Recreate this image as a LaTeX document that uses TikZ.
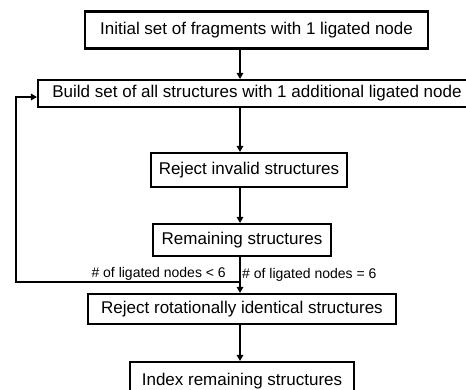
\documentclass[tikz,border=0pt]{standalone}
\usepackage{fontspec}
\setmainfont{Liberation Sans}
\usetikzlibrary{arrows.meta, calc, positioning}

\begin{document}
\begin{tikzpicture}[x=1pt, y=-1pt,
	stage/.style={
	draw,rectangle,line width=2.1pt,inner sep=0pt,align=center,
	font=\fontsize{17}{20}\selectfont
	},
	cond/.style={inner sep=1pt,font=\fontsize{14}{16}\selectfont},
	flow/.style={line width=2pt,-{Triangle[length=6pt,width=6.5pt]}}
]
	\useasboundingbox (0,0) rectangle (466,390);
	\clip (0,0) rectangle (466,390);

	\coordinate (spine) at (240,0);
	\coordinate (split) at (240,282);
	\coordinate (back) at (16,282);

	\node[stage,minimum width=343pt,minimum height=37pt] at (256.5,30) (init) {Initial set of fragments with 1 ligated node};
	\node[stage,minimum width=438pt,minimum height=27pt] at (257,93.5) (build) {Build set of all structures with 1 additional ligated node};
	\node[stage,minimum width=196pt,minimum height=34pt] at (249,170) (invalid) {Reject invalid structures};
	\node[stage,minimum width=178pt,minimum height=32pt] at (242,240) (remain) {Remaining structures};
	\node[stage,minimum width=308pt,minimum height=30pt] at (242,309) (rotrej) {Reject rotationally identical structures};
	\node[stage,minimum width=224pt,minimum height=38pt] at (242,381) (index) {Index remaining structures};

	\node[cond,anchor=south east] at ([xshift=-13pt]split) (less) {\# of ligated nodes < 6};
	\node[cond,anchor=south west] at ([xshift=1pt,yshift=-1pt]split) (equal) {\# of ligated nodes = 6};

	\draw[flow] (init.south -| spine) -- (build.north -| spine);
	\draw[flow] (build.south -| spine) -- (invalid.north -| spine);
	\draw[flow] (invalid.south -| spine) -- (remain.north -| spine);
	\draw[flow] (remain.south -| spine) -- (rotrej.north -| spine);
	\draw[flow] (rotrej.south -| spine) -- (index.north -| spine);
	\draw[flow] (split) -- (back) |- ([yshift=-3.5pt]build.west);
\end{tikzpicture}
\end{document}
